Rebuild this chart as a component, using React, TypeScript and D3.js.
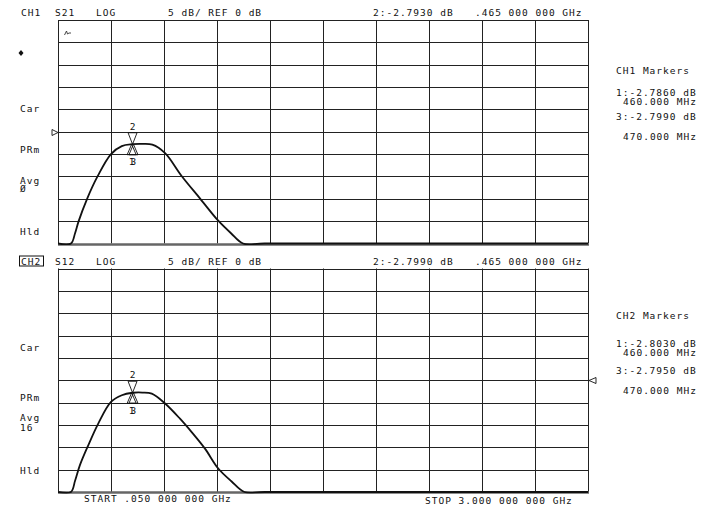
import * as d3 from 'd3';
import { useEffect, useRef } from 'react';

const W = 704;
const H = 511;

// sweep
const START_GHZ = 0.05;
const STOP_GHZ = 3.0;
const REF_DB = 0;
const DB_PER_DIV = 5;
const DIVS = 10;

// traces (GHz / dB); below -25 dB the trace sits on the bottom edge
const CH1_FREQ = [0.05, 0.122, 0.145, 0.165, 0.212, 0.27, 0.345, 0.405, 0.465, 0.52, 0.575, 0.646, 0.738, 0.84, 0.942, 1.013, 1.08, 1.2, 3.0];
const CH1_DB = [-25, -25, -22.7, -20, -15, -10, -5, -3.2, -2.79, -2.72, -2.9, -4.8, -9.9, -14.9, -19.9, -22.7, -25, -25, -25];
const CH2_FREQ = [0.05, 0.122, 0.145, 0.172, 0.219, 0.274, 0.345, 0.405, 0.465, 0.52, 0.572, 0.646, 0.729, 0.794, 0.868, 0.942, 1.015, 1.088, 1.2, 3.0];
const CH2_DB = [-25, -25, -22.5, -19, -14.5, -9.7, -4.85, -3.35, -2.8, -2.75, -3.0, -5.2, -8.6, -11.6, -15.3, -19.75, -22.6, -25, -25, -25];

// markers (1, 2, 3)
const MARKER_FREQ = [0.46, 0.465, 0.47];
const CH1_MARKER_DB = [-2.786, -2.793, -2.799];
const CH2_MARKER_DB = [-2.803, -2.799, -2.795];

const CH1_HEADER = ['CH1', 'S21', 'LOG', '5 dB/ REF 0 dB', '2:-2.7930 dB', '.465 000 000 GHz'];
const CH2_HEADER = ['CH2', 'S12', 'LOG', '5 dB/ REF 0 dB', '2:-2.7990 dB', '.465 000 000 GHz'];
const CH1_LEFT = ['Car', 'PRm', 'Avg', 'Ø', 'Hld'];
const CH2_LEFT = ['Car', 'PRm', 'Avg', '16', 'Hld'];
const CH1_RIGHT = ['CH1 Markers', '1:-2.7860 dB', '460.000 MHz', '3:-2.7990 dB', '470.000 MHz'];
const CH2_RIGHT = ['CH2 Markers', '1:-2.8030 dB', '460.000 MHz', '3:-2.7950 dB', '470.000 MHz'];
const START_LABEL = 'START .050 000 000 GHz';
const STOP_LABEL = 'STOP 3.000 000 000 GHz';

const FONT = '"DejaVu Sans Mono", monospace';

const App = () => {
    const svgRef = useRef<SVGSVGElement | null>(null);

    useEffect(() => {
        const svg = d3.select(svgRef.current).attr('width', W).attr('height', H);
        svg.selectAll('*').remove();
        svg.append('rect').attr('width', W).attr('height', H).attr('fill', '#fff');

        const gridLeft = 58;
        const gridRight = 588;
        const panelH = 223.5;

        const x = d3.scaleLinear().domain([START_GHZ, STOP_GHZ]).range([gridLeft, gridRight]);

        const text = (t: string, px: number, py: number, anchor = 'start') =>
            svg
                .append('text')
                .attr('x', px)
                .attr('y', py)
                .attr('text-anchor', anchor)
                .style('font-family', FONT)
                .style('font-size', '9.5px')
                .style('letter-spacing', '1px')
                .attr('fill', '#111')
                .text(t);

        const panels = [
            {
                top: 20,
                freq: CH1_FREQ,
                db: CH1_DB,
                mdb: CH1_MARKER_DB,
                header: CH1_HEADER,
                left: CH1_LEFT,
                leftY: [112, 152.5, 183.5, 192, 235],
                right: CH1_RIGHT,
                rightY: [74, 96, 104.5, 119.5, 140],
                refSide: 'left',
            },
            {
                top: 268.5,
                freq: CH2_FREQ,
                db: CH2_DB,
                mdb: CH2_MARKER_DB,
                header: CH2_HEADER,
                left: CH2_LEFT,
                leftY: [351, 401, 420.5, 431, 474],
                right: CH2_RIGHT,
                rightY: [319, 346.5, 355.5, 373.5, 393.5],
                refSide: 'right',
            },
        ];

        const defs = svg.append('defs');

        panels.forEach((p, pi) => {
            const bottom = p.top + panelH;
            const y = d3
                .scaleLinear()
                .domain([REF_DB - (DB_PER_DIV * DIVS) / 2, REF_DB + (DB_PER_DIV * DIVS) / 2])
                .range([bottom, p.top])
                .clamp(true);

            const clipId = `clip-${pi}`;
            defs.append('clipPath')
                .attr('id', clipId)
                .append('rect')
                .attr('x', gridLeft)
                .attr('y', p.top - 20)
                .attr('width', gridRight - gridLeft + 1)
                .attr('height', bottom - p.top + 21.5);

            const g = svg.append('g');

            // graticule
            const xTicks = d3.range(DIVS + 1).map((i) => START_GHZ + ((STOP_GHZ - START_GHZ) * i) / DIVS);
            const yTicks = d3.range(DIVS + 1).map((i) => y.domain()[0] + DB_PER_DIV * i);
            g.selectAll('.vline')
                .data(xTicks)
                .join('line')
                .attr('x1', (d) => Math.round(x(d)) + 0.5)
                .attr('x2', (d) => Math.round(x(d)) + 0.5)
                .attr('y1', p.top)
                .attr('y2', bottom)
                .attr('stroke', '#222')
                .attr('stroke-width', 1);
            g.selectAll('.hline')
                .data(yTicks)
                .join('line')
                .attr('x1', gridLeft)
                .attr('x2', gridRight + 1)
                .attr('y1', (d) => Math.round(y(d)) + 0.5)
                .attr('y2', (d) => Math.round(y(d)) + 0.5)
                .attr('stroke', '#222')
                .attr('stroke-width', 1);
            // heavier bottom edge
            g.append('line')
                .attr('x1', gridLeft)
                .attr('x2', gridRight + 1)
                .attr('y1', Math.round(bottom) + 0.5)
                .attr('y2', Math.round(bottom) + 0.5)
                .attr('stroke', '#666')
                .attr('stroke-width', 2.5);

            // trace
            const pts = p.freq.map((f, i) => [f, p.db[i]] as [number, number]);
            const line = d3
                .line<[number, number]>()
                .x((d) => x(d[0]))
                .y((d) => Math.min(y(d[1]), bottom))
                .curve(d3.curveCatmullRom.alpha(0.5));
            g.append('path')
                .attr('d', line(pts))
                .attr('clip-path', `url(#${clipId})`)
                .attr('fill', 'none')
                .attr('stroke', '#111')
                .attr('stroke-width', 1.8)
                .attr('stroke-linejoin', 'round');

            // markers: 2 active above (▽), 1 and 3 below (△)
            const mk = MARKER_FREQ.map((f, i) => ({ id: i + 1, x: x(f), y: y(p.mdb[i]) }));
            const hw = 4.5;
            mk.forEach((m) => {
                if (m.id === 2) {
                    g.append('path')
                        .attr('d', `M${m.x},${m.y} L${m.x - hw},${m.y - 11.5} L${m.x + hw},${m.y - 11.5} Z`)
                        .attr('fill', 'none')
                        .attr('stroke', '#111')
                        .attr('stroke-width', 0.9);
                    text('2', m.x, m.y - 14.5, 'middle').style('letter-spacing', '0px');
                } else {
                    g.append('path')
                        .attr('d', `M${m.x},${m.y} L${m.x - hw},${m.y + 10.5} L${m.x + hw},${m.y + 10.5} Z`)
                        .attr('fill', 'none')
                        .attr('stroke', '#111')
                        .attr('stroke-width', 0.9);
                    text(String(m.id), m.x, m.y + 21, 'middle').style('letter-spacing', '0px');
                }
            });

            // reference position marker
            const ry = Math.round(y(REF_DB)) + 0.5;
            if (p.refSide === 'left') {
                g.append('path')
                    .attr('d', `M${gridLeft - 6},${ry - 3} L${gridLeft},${ry} L${gridLeft - 6},${ry + 3} Z`)
                    .attr('fill', '#fff')
                    .attr('stroke', '#111')
                    .attr('stroke-width', 0.9);
            } else {
                g.append('path')
                    .attr('d', `M${gridRight + 8},${ry - 3} L${gridRight + 1},${ry} L${gridRight + 8},${ry + 3} Z`)
                    .attr('fill', '#fff')
                    .attr('stroke', '#111')
                    .attr('stroke-width', 0.9);
            }

            // header
            const hy = p.top - 4;
            const hx = [21, 55, 96, 168, 373, 475];
            p.header.forEach((t, i) => text(t, hx[i], hy));
            if (pi === 1) {
                svg.append('rect')
                    .attr('x', 19.5)
                    .attr('y', hy - 8.5)
                    .attr('width', 24)
                    .attr('height', 10)
                    .attr('fill', 'none')
                    .attr('stroke', '#111')
                    .attr('stroke-width', 1);
            }

            // left annotations
            p.left.forEach((t, i) => text(t, 20, p.leftY[i]));
            // right marker list
            p.right.forEach((t, i) => text(t, i === 2 || i === 4 ? 623 : 616, p.rightY[i]));
        });

        // small symbols in CH1
        svg.append('path')
            .attr('d', 'M21,50 L23.5,53 L21,56 L18.5,53 Z')
            .attr('fill', '#111');
        svg.append('path')
            .attr('d', 'M64.5,35 L66.5,31 L67.5,34 L69,33 L71,33')
            .attr('fill', 'none')
            .attr('stroke', '#333')
            .attr('stroke-width', 0.9);

        text(START_LABEL, 84, 502);
        text(STOP_LABEL, 425, 504);
    }, []);

    return <svg ref={svgRef} style={{ position: 'absolute', left: 0, top: 0, display: 'block' }}></svg>;
};

export default App;
